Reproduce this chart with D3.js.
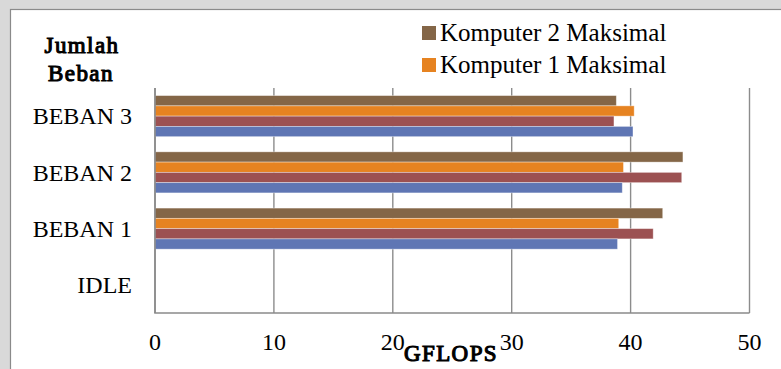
<!DOCTYPE html>
<html>
<head>
<meta charset="utf-8">
<script src="https://cdn.jsdelivr.net/npm/d3@7"></script>
<style>
  html, body { margin: 0; padding: 0; background: #d9d9d9; }
  svg { display: block; }
</style>
</head>
<body>
<svg id="chart" width="781" height="369"></svg>
<script>
// Load categories, top to bottom
const categories = ["BEBAN 3", "BEBAN 2", "BEBAN 1", "IDLE"];

// GFLOPS per series (same order as categories)
const komputer2Maksimal = [38.8, 44.4, 42.7, 0];
const komputer1Maksimal = [40.3, 39.4, 39.0, 0];
const series3Values     = [38.6, 44.3, 41.9, 0];
const series4Values     = [40.2, 39.3, 38.9, 0];

const xTicks = [0, 10, 20, 30, 40, 50];
const legendLabels = ["Komputer 2 Maksimal", "Komputer 1 Maksimal"];

const series = [
  { key: "k2max", values: komputer2Maksimal, color: "#846647" },
  { key: "k1max", values: komputer1Maksimal, color: "#e68321" },
  { key: "s3",    values: series3Values,     color: "#9c5152" },
  { key: "s4",    values: series4Values,     color: "#5f76b4" }
];

const svg = d3.select("#chart");
const serif = "'Liberation Serif', 'Times New Roman', serif";

// bold serif text: regular face thickened with a matching stroke
function boldSerif(sel, size) {
  return sel.attr("font-family", serif)
    .attr("font-size", size)
    .attr("fill", "#000")
    .attr("stroke", "#000")
    .attr("stroke-width", 1.1)
    .attr("letter-spacing", 1.4)
    .attr("paint-order", "stroke");
}

// white chart panel
svg.append("rect")
  .attr("x", 10.5).attr("y", 9.5)
  .attr("width", 790).attr("height", 380)
  .attr("fill", "#ffffff")
  .attr("stroke", "#8a8a8a").attr("stroke-width", 1.2);

const plot = { left: 155, right: 749.5, top: 88, bottom: 313 };

const x = d3.scaleLinear().domain([0, 50]).range([plot.left, plot.right]);
const y = d3.scaleBand().domain(categories)
  .range([plot.top, plot.bottom])
  .paddingInner(0.27).paddingOuter(0.135);
const yInner = d3.scaleBand().domain(series.map(s => s.key))
  .range([0, y.bandwidth()]);

// vertical gridlines
svg.append("g")
  .selectAll("line")
  .data(xTicks)
  .join("line")
  .attr("x1", d => x(d)).attr("x2", d => x(d))
  .attr("y1", plot.top).attr("y2", plot.bottom)
  .attr("stroke", "#8c8c8c").attr("stroke-width", 1.4);

// bars
const groups = svg.append("g")
  .selectAll("g")
  .data(categories)
  .join("g")
  .attr("transform", d => `translate(0,${y(d)})`);

groups.selectAll("rect")
  .data((c, i) => series.map(s => ({ key: s.key, color: s.color, v: s.values[i] })))
  .join("rect")
  .filter(d => d.v > 0)
  .attr("x", x(0))
  .attr("y", d => yInner(d.key))
  .attr("width", d => x(d.v) - x(0))
  .attr("height", yInner.bandwidth())
  .attr("fill", d => d.color)
  .attr("stroke", "rgba(255,255,255,0.45)")
  .attr("stroke-width", 0.8);

// axis lines
svg.append("line")
  .attr("x1", x(0)).attr("x2", x(0))
  .attr("y1", plot.top).attr("y2", plot.bottom)
  .attr("stroke", "#8a8a8a").attr("stroke-width", 1.6);
svg.append("line")
  .attr("x1", x(0) - 0.8).attr("x2", plot.right)
  .attr("y1", plot.bottom).attr("y2", plot.bottom)
  .attr("stroke", "#8a8a8a").attr("stroke-width", 1.6);

// category labels
svg.append("g")
  .selectAll("text")
  .data(categories)
  .join("text")
  .attr("x", 132)
  .attr("y", d => y(d) + y.bandwidth() / 2)
  .attr("dy", "0.34em")
  .attr("text-anchor", "end")
  .attr("font-family", serif)
  .attr("font-size", 24)
  .attr("fill", "#000")
  .text(d => d);

// x tick labels
svg.append("g")
  .selectAll("text")
  .data(xTicks)
  .join("text")
  .attr("x", d => x(d))
  .attr("y", 350)
  .attr("text-anchor", "middle")
  .attr("font-family", serif)
  .attr("font-size", 24)
  .attr("fill", "#000")
  .text(d => d);

// axis titles
svg.append("text")
  .attr("x", 451).attr("y", 361)
  .attr("text-anchor", "middle")
  .call(boldSerif, 23)
  .text("GFLOPS");

const yTitle = svg.append("text")
  .attr("text-anchor", "middle")
  .call(boldSerif, 23);
yTitle.append("tspan").attr("x", 82).attr("y", 53).text("Jumlah");
yTitle.append("tspan").attr("x", 81).attr("y", 81).text("Beban");

// legend
const legend = svg.append("g")
  .selectAll("g")
  .data(legendLabels)
  .join("g")
  .attr("transform", (d, i) => `translate(422,${26 + i * 32})`);
legend.append("rect")
  .attr("width", 14).attr("height", 14)
  .attr("fill", (d, i) => series[i].color);
legend.append("text")
  .attr("x", 18).attr("y", 14.5)
  .attr("font-family", serif)
  .attr("font-size", 25)
  .attr("fill", "#000")
  .text(d => d);
</script>
</body>
</html>
